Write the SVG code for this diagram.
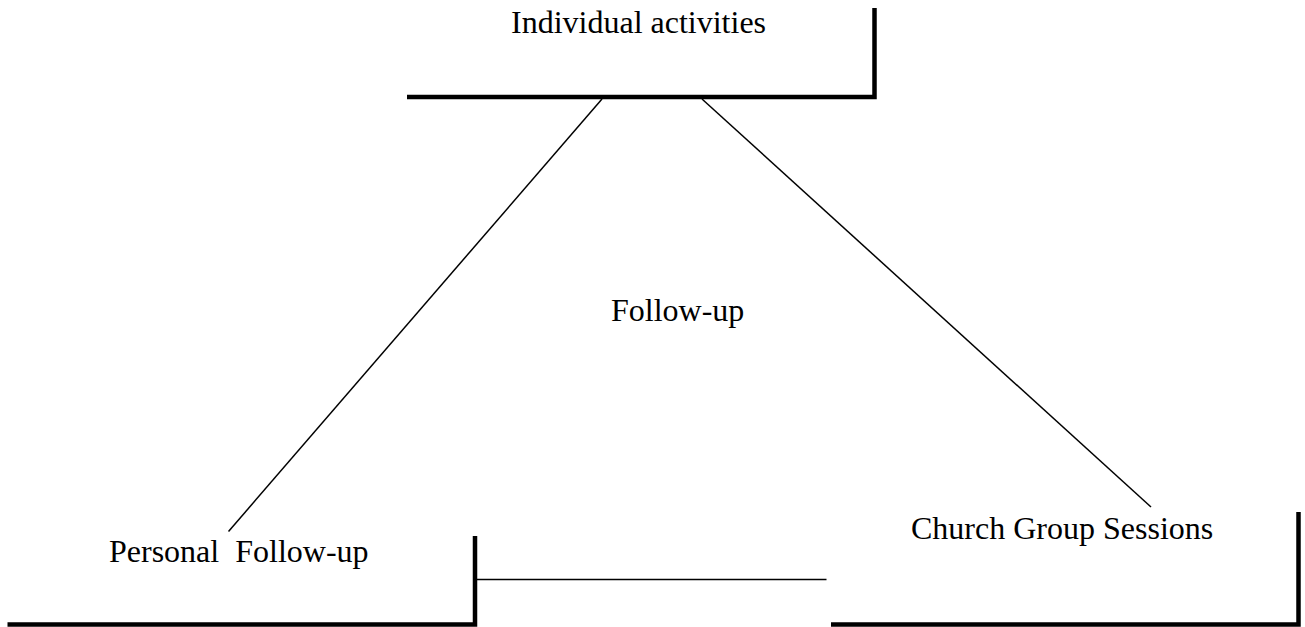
<svg xmlns="http://www.w3.org/2000/svg" width="1305" height="627" viewBox="0 0 1305 627">
<style>
text{font-family:"Liberation Serif","Times New Roman",serif;font-size:32px;fill:#000}
.thick{stroke:#000;stroke-width:4.5;fill:none;stroke-linecap:butt}
.thin{stroke:#000;stroke-width:1.5;fill:none}
</style>
<rect width="1305" height="627" fill="#fff"/>
<g id="individual">
<polyline class="thick" points="407,97 874.5,97 874.5,8"/>
<text x="511" y="33">Individual activities</text>
</g>
<g id="personal">
<polyline class="thick" points="7.5,624.5 475,624.5 475,536"/>
<text x="109" y="562" xml:space="preserve" style="white-space:pre">Personal  Follow-up</text>
</g>
<g id="church">
<polyline class="thick" points="831,624.5 1298.5,624.5 1298.5,512"/>
<text x="911" y="539">Church Group Sessions</text>
</g>
<g id="center">
<text x="611" y="321">Follow-up</text>
</g>
<g id="connectors">
<line class="thin" x1="602" y1="99" x2="228.5" y2="531.5"/>
<line class="thin" x1="702" y1="99" x2="1151" y2="507"/>
<line class="thin" x1="477" y1="579.5" x2="826.5" y2="579.5"/>
</g>
</svg>
